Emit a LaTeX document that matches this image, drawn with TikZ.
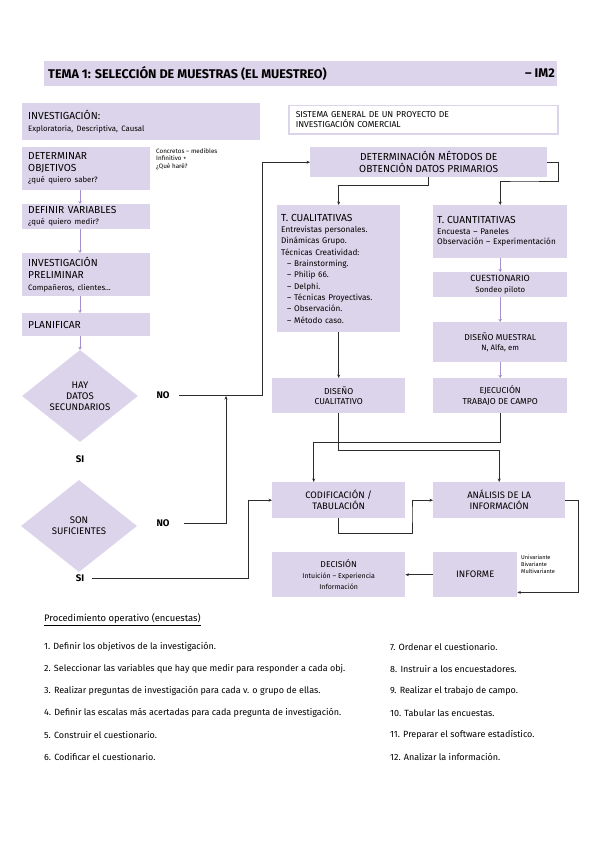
\documentclass[tikz,border=0pt]{standalone}
\usepackage{fontspec}
\setmainfont{Fira Sans}
\usetikzlibrary{arrows.meta,shapes.geometric}
\definecolor{lav}{RGB}{220,212,234}
\definecolor{lavline}{RGB}{165,145,205}
\definecolor{ink}{RGB}{45,45,45}
\newcommand\fa{\fontsize{10.2}{11.6}\selectfont}
\newcommand\fb{\fontsize{7.8}{9.6}\selectfont}
\newcommand\fc{\fontsize{6.3}{7.6}\selectfont}
\newcommand\fd{\fontsize{8.6}{10.6}\selectfont}
\newcommand\fe{\fontsize{9.4}{11}\selectfont}
\newcommand\fl{\fontsize{9}{10}\selectfont}
\tikzset{
  box/.style={fill=lav, inner xsep=6pt, inner ysep=2pt, anchor=north west, align=left, font=\fa},
  cbox/.style={box, align=center},
  conn/.style={draw=ink, line width=0.7pt, -{Stealth[length=3.5pt,width=3pt]}},
  larr/.style={draw=lavline, line width=1pt, -{Stealth[length=3pt,width=3.5pt]}},
  dec/.style={diamond, fill=lav, minimum width=116pt, minimum height=92pt, inner sep=0pt, align=center, font=\fontsize{9.6}{11.2}\selectfont},
  lbl/.style={font=\fontsize{9.6}{11}\selectfont\bfseries, inner sep=1pt},
  item/.style={anchor=west, font=\fl, inner sep=0pt}
}
\begin{document}
\begin{tikzpicture}[x=1pt,y=-1pt]
\useasboundingbox (0,0) rectangle (600,848);
% title
\node[fill=lav, minimum width=513pt, minimum height=25pt, anchor=north west, inner sep=0pt] (title) at (44,61) {};
\node[anchor=west, font=\fontsize{12.6}{14}\selectfont\bfseries, inner sep=0pt] (tt) at (48,73.5) {TEMA 1: SELECCIÓN DE MUESTRAS (EL MUESTREO)};
\node[anchor=east, font=\fontsize{12.6}{14}\selectfont\bfseries, inner sep=0pt] (tim) at (555,73.5) {– IM2};
% top boxes
\node[box, text width=226pt, minimum height=37pt] (inv) at (22,103) {INVESTIGACIÓN:\\{\fb Exploratoria, Descriptiva, Causal}};
\node[box, fill=white, draw=lav, line width=1.5pt, text width=255pt, minimum height=28pt, font=\fontsize{8.6}{10}\selectfont, inner xsep=7pt] (sis) at (288,105) {SISTEMA GENERAL DE UN PROYECTO DE\\INVESTIGACIÓN COMERCIAL};
% left column
\node[box, text width=116pt, minimum height=43pt] (obj) at (22,147) {DETERMINAR\\OBJETIVOS\\{\fb ¿qué quiero saber?}};
\node[anchor=north west, align=left, font=\fc, inner sep=0pt] (note) at (156,148) {Concretos – medibles\\Infinitivo +\\¿Qué haré?};
\node[box, text width=116pt, minimum height=24pt] (var) at (22,204) {DEFINIR VARIABLES\\{\fb ¿qué quiero medir?}};
\node[box, text width=116pt, minimum height=43pt] (pre) at (22,253) {INVESTIGACIÓN\\PRELIMINAR\\{\fb Compañeros, clientes...}};
\node[box, text width=116pt, minimum height=23pt] (plan) at (22,313) {PLANIFICAR};
\node[dec] (d1) at (80,396) {HAY\\DATOS\\SECUNDARIOS};
\node[lbl] (no1) at (163,395) {NO};
\node[lbl] (si1) at (80,459) {SI};
\node[dec] (d2) at (79,526) {SON\\SUFICIENTES};
\node[lbl] (no2) at (163,523) {NO};
\node[lbl] (si2) at (80,578) {SI};
\draw[larr] (obj.south -| d1.north) -- (var.north -| d1.north);
\draw[larr] (var.south -| d1.north) -- (pre.north -| d1.north);
\draw[larr] (pre.south -| d1.north) -- (plan.north -| d1.north);
\draw[larr] (plan.south -| d1.north) -- (d1.north);
% right part
\node[cbox, minimum width=237pt, minimum height=30pt] (dmp) at (310,147) {DETERMINACIÓN MÉTODOS DE\\OBTENCIÓN DATOS PRIMARIOS};
\node[box, text width=115pt, minimum height=127pt, font=\fontsize{8.2}{11.3}\selectfont, inner xsep=4pt, inner ysep=4pt] (cual) at (277,205) {{\fa T. CUALITATIVAS}\\
Entrevistas personales.\\Dinámicas Grupo.\\Técnicas Creatividad:\\
\hspace*{6pt}– Brainstorming.\\\hspace*{6pt}– Philip 66.\\\hspace*{6pt}– Delphi.\\\hspace*{6pt}– Técnicas Proyectivas.\\\hspace*{6pt}– Observación.\\\hspace*{6pt}– Método caso.};
\node[box, text width=126pt, minimum height=53pt, font=\fontsize{8.2}{10.5}\selectfont, inner xsep=4pt] (cuant) at (433,205) {{\fa T. CUANTITATIVAS}\\Encuesta – Paneles\\Observación – Experimentación};
\node[cbox, minimum width=134pt, minimum height=25pt, font=\fontsize{9}{10.4}\selectfont] (cues) at (433,272) {CUESTIONARIO\\{\fb Sondeo piloto}};
\node[cbox, minimum width=134pt, minimum height=40pt, font=\fd] (dm) at (433,322) {DISEÑO MUESTRAL\\{\fb N, Alfa, em}};
\node[cbox, minimum width=133pt, minimum height=35pt, font=\fd] (dc) at (272,378) {DISEÑO\\CUALITATIVO};
\node[cbox, minimum width=134pt, minimum height=35pt, font=\fd] (ej) at (433,378) {EJECUCIÓN\\TRABAJO DE CAMPO};
\node[cbox, minimum width=133pt, minimum height=36pt, font=\fe] (cod) at (272,482) {CODIFICACIÓN /\\TABULACIÓN};
\node[cbox, minimum width=132pt, minimum height=36pt, font=\fe] (an) at (433,482) {ANÁLISIS DE LA\\INFORMACIÓN};
\node[cbox, minimum width=84pt, minimum height=45pt, font=\fe] (inf) at (433,552) {INFORME};
\node[cbox, minimum width=133pt, minimum height=45pt, font=\fd] (dcs) at (272,552) {DECISIÓN\\{\fontsize{7}{8.6}\selectfont Intuición – Experiencia}\\{\fontsize{7}{8.6}\selectfont Información}};
\node[anchor=north west, align=left, font=\fontsize{5.6}{6.8}\selectfont, inner sep=0pt] (uni) at (521,555) {Univariante\\Bivariante\\Multivariante};
% connectors
\coordinate (n1s) at (179,395);
\coordinate (n2s) at (184,523);
\coordinate (s2s) at (92,578);
\draw[conn] (n1s) -- (262,395) |- (dmp.west);
\draw[conn] (n2s) -- (226,523) -- (226,396);
\draw[conn] (s2s) -- (248,578) |- (cod.west);
\draw[conn] (dmp.south) -- ++(0,8) -| (cual.north);
\draw[conn] (dmp.east) -- ++(11,0) |- (520,181) -| (cuant.north);
\draw[conn] (cual.south) -- (dc.north);
\draw[larr] (cuant.south) -- (cues.north);
\draw[larr] (cues.south) -- (dm.north);
\draw[larr] (dm.south) -- (ej.north);
\draw[conn] (dc.south) -- ++(0,37) -| (an.north);
\draw[conn] (ej.south) -- ++(0,29) -| ([xshift=-25pt]cod.north);
\draw[conn] (cod.south) -- ++(0,15) -| (412,512) |- (an.west);
\draw[conn] (an.east) -- ++(13,0) |- ([yshift=5pt]inf.south east);
\draw[conn] (inf.west) -- (dcs.east);
% list
\node[item, font=\fontsize{9.4}{11}\selectfont] (lh) at (44,620) {\underline{Procedimiento operativo (encuestas)}};
\node[item] (l1) at (44,647) {1. Definir los objetivos de la investigación.};
\node[item] (l2) at (44,669) {2. Seleccionar las variables que hay que medir para responder a cada obj.};
\node[item] (l3) at (44,691) {3. Realizar preguntas de investigación para cada v. o grupo de ellas.};
\node[item] (l4) at (44,713) {4. Definir las escalas más acertadas para cada pregunta de investigación.};
\node[item] (l5) at (44,735) {5. Construir el cuestionario.};
\node[item] (l6) at (44,757) {6. Codificar el cuestionario.};
\node[item] (l7) at (390,647) {7. Ordenar el cuestionario.};
\node[item] (l8) at (390,669) {8. Instruir a los encuestadores.};
\node[item] (l9) at (390,691) {9. Realizar el trabajo de campo.};
\node[item] (l10) at (390,713) {10. Tabular las encuestas.};
\node[item] (l11) at (390,735) {11. Preparar el software estadístico.};
\node[item] (l12) at (390,757) {12. Analizar la información.};
\end{tikzpicture}
\end{document}
